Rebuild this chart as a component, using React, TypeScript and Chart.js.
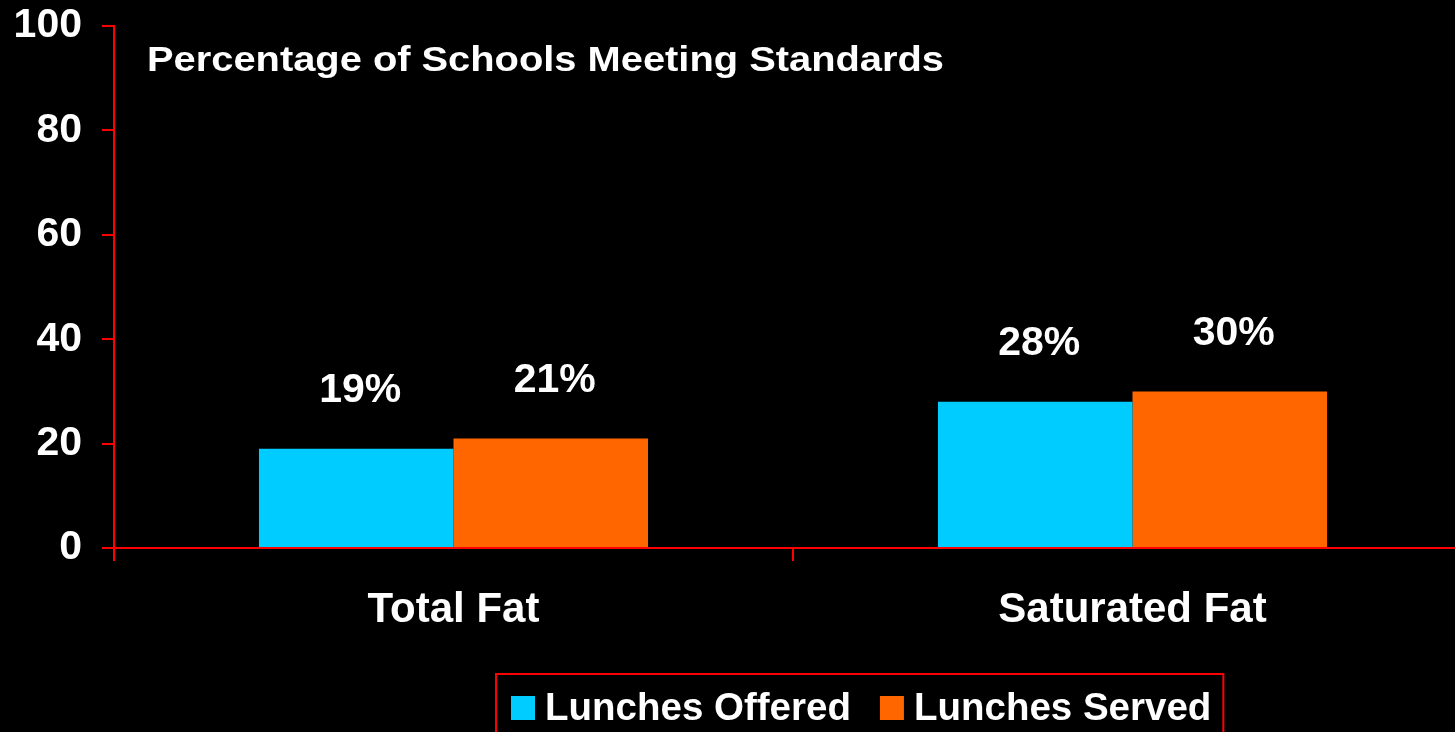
import React, { useEffect, useRef } from "react";
import { Chart, registerables } from "chart.js";

Chart.register(...registerables);

const categories = ["Total Fat", "Saturated Fat"];
const seriesNames = ["Lunches Offered", "Lunches Served"];
const offeredValues = [19, 28];
const servedValues = [21, 30];
const seriesColors = ["#00CCFF", "#FF6600"];
const chartTitle = "Percentage of Schools Meeting Standards";
const yMin = 0;
const yMax = 100;
const yStep = 20;

const FONT = '"Liberation Sans", Arial, Helvetica, sans-serif';
const AXIS_RED = "#FF0000";

const titlePlugin = {
  id: "insideTitle",
  afterDraw(chart: any) {
    const { ctx, chartArea } = chart;
    ctx.save();
    ctx.font = `bold 35px ${FONT}`;
    ctx.fillStyle = "#FFFFFF";
    ctx.textBaseline = "alphabetic";
    ctx.textAlign = "left";
    ctx.translate(chartArea.left + 33, chartArea.top + 45);
    const w = ctx.measureText(chartTitle).width;
    ctx.scale(797 / w, 1);
    ctx.fillText(chartTitle, 0, 0);
    ctx.restore();
  },
};

const valueLabelPlugin = {
  id: "valueLabels",
  afterDatasetsDraw(chart: any) {
    const { ctx } = chart;
    ctx.save();
    ctx.font = `bold 41px ${FONT}`;
    ctx.fillStyle = "#FFFFFF";
    ctx.textAlign = "center";
    ctx.textBaseline = "middle";
    chart.data.datasets.forEach((ds: any, di: number) => {
      const meta = chart.getDatasetMeta(di);
      meta.data.forEach((el: any, i: number) => {
        ctx.fillText(`${ds.data[i]}%`, el.x + 4, el.y - 58);
      });
    });
    ctx.restore();
  },
};

const boxedLegendPlugin = {
  id: "boxedLegend",
  afterDraw(chart: any) {
    const { ctx } = chart;
    ctx.save();
    ctx.font = `bold 38.5px ${FONT}`;
    ctx.textBaseline = "alphabetic";
    ctx.textAlign = "left";
    const startX = 511;
    const swatch = 24;
    const swatchTop = 696;
    const baseline = 720;
    let x = startX;
    chart.data.datasets.forEach((ds: any, i: number) => {
      ctx.fillStyle = ds.backgroundColor;
      ctx.fillRect(x, swatchTop, swatch, swatch);
      const tx = x + swatch + 10;
      ctx.fillStyle = "#FFFFFF";
      ctx.fillText(ds.label, tx, baseline);
      const w = ctx.measureText(ds.label).width;
      x = tx + w + (i === chart.data.datasets.length - 1 ? 0 : 29);
    });
    ctx.strokeStyle = AXIS_RED;
    ctx.lineWidth = 2;
    const left = startX - 15;
    const right = x + 12;
    ctx.strokeRect(left, 674, right - left, 80);
    ctx.restore();
  },
};

export default function App() {
  const canvasRef = useRef<HTMLCanvasElement | null>(null);

  useEffect(() => {
    document.body.style.margin = "0";
    document.body.style.background = "#000";
    const canvas = canvasRef.current;
    if (!canvas) return;
    const chart = new Chart(canvas, {
      type: "bar",
      data: {
        labels: categories,
        datasets: [
          {
            label: seriesNames[0],
            data: offeredValues,
            backgroundColor: seriesColors[0],
            borderWidth: 0,
            categoryPercentage: 0.573,
            barPercentage: 1,
          },
          {
            label: seriesNames[1],
            data: servedValues,
            backgroundColor: seriesColors[1],
            borderWidth: 0,
            categoryPercentage: 0.573,
            barPercentage: 1,
          },
        ],
      },
      options: {
        responsive: false,
        animation: false,
        devicePixelRatio: 1,
        layout: { padding: { top: 26, left: 0, right: 0, bottom: 0 } },
        plugins: {
          legend: { display: false },
          title: { display: false },
          tooltip: { enabled: false },
        },
        scales: {
          x: {
            type: "category",
            offset: true,
            afterFit(scale: any) {
              scale.height = 184;
              scale.paddingLeft = 0;
              scale.paddingRight = 0;
            },
            grid: {
              offset: true,
              drawOnChartArea: false,
              drawTicks: true,
              tickLength: 13,
              color: AXIS_RED,
              lineWidth: 2,
            },
            border: { display: true, color: AXIS_RED, width: 2 },
            ticks: {
              color: "#FFFFFF",
              font: { family: FONT, size: 42, weight: "bold" },
              padding: 24,
              maxRotation: 0,
            },
          },
          y: {
            min: yMin,
            max: yMax,
            afterFit(scale: any) {
              scale.width = 114;
              scale.paddingTop = 0;
              scale.paddingBottom = 0;
            },
            grid: {
              drawOnChartArea: false,
              drawTicks: true,
              tickLength: 12,
              color: AXIS_RED,
              lineWidth: 2,
            },
            border: { display: true, color: AXIS_RED, width: 2 },
            ticks: {
              stepSize: yStep,
              color: "#FFFFFF",
              font: { family: FONT, size: 41, weight: "bold" },
              padding: 20,
            },
          },
        },
      },
      plugins: [titlePlugin, valueLabelPlugin, boxedLegendPlugin],
    });
    return () => chart.destroy();
  }, []);

  return (
    <div
      style={{
        position: "fixed",
        left: 0,
        top: 0,
        width: 1455,
        height: 732,
        background: "#000",
        overflow: "hidden",
      }}
    >
      <canvas
        ref={canvasRef}
        width={1472}
        height={732}
        style={{ display: "block", width: 1472, height: 732 }}
      />
    </div>
  );
}
